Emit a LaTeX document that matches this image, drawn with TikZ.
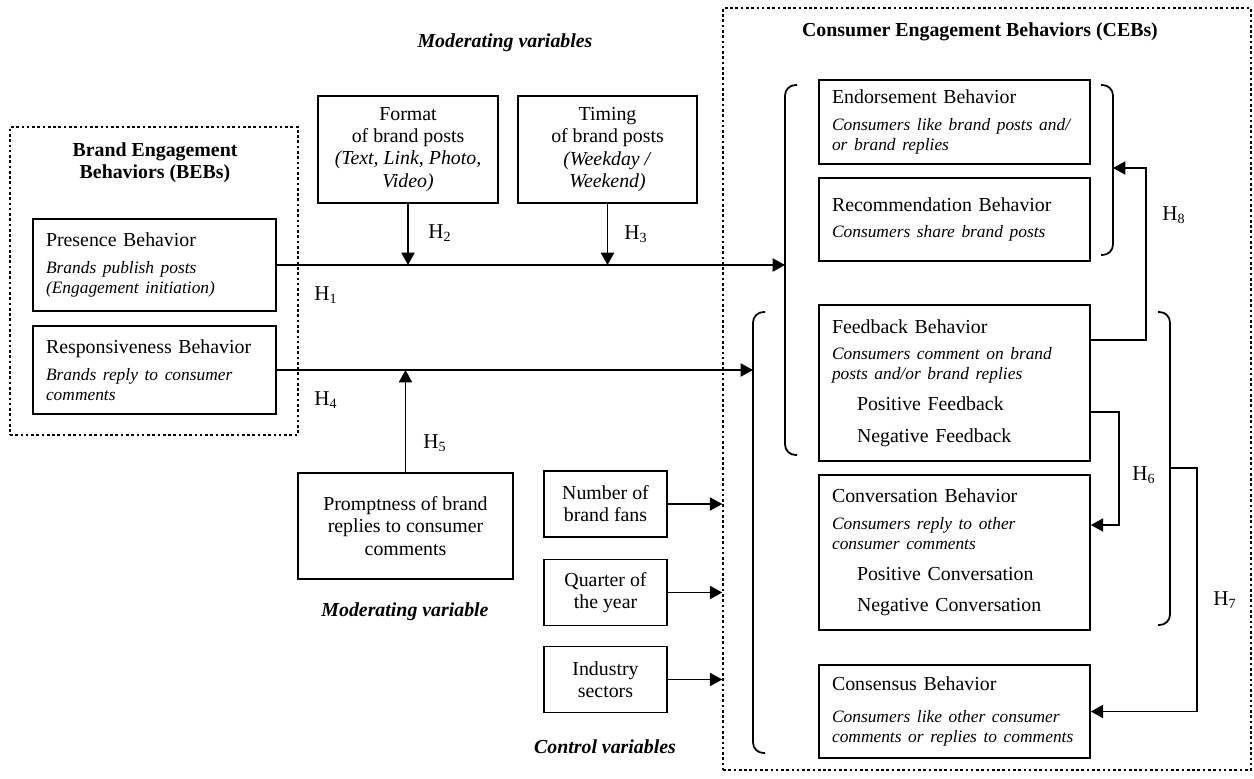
\documentclass[tikz,border=0pt]{standalone}
\usepackage{fontspec}
\setmainfont{Liberation Serif}
\usetikzlibrary{arrows.meta, positioning, calc}
\newcommand{\behdesc}[1]{\mbox{\fontsize{9.9}{11.3}\selectfont\itshape #1}}
\tikzset{
  every picture/.style={line width=0.8pt},
  varbox/.style={draw, line width=1pt, align=center, inner sep=2pt, font=\fontsize{11.3}{12.6}\selectfont},
  behbox/.style={draw, line width=1pt, align=left, text width=#1, inner xsep=0.26cm, inner ysep=2pt, font=\fontsize{11.3}{11.3}\selectfont},
  behbox/.default=4.9cm,
  dotframe/.style={draw, line width=0.9pt, dash pattern=on 1.5pt off 1.5pt},
  arrow/.style={-{Triangle[length=7pt, width=7.5pt]}, line width=0.8pt},
  bracket/.style={line width=1pt, rounded corners=6pt},
  hyp/.style={font=\fontsize{12}{12}\selectfont, inner sep=0pt},
  heading/.style={font=\fontsize{11.3}{12.6}\selectfont\bfseries, align=center},
  varnote/.style={font=\fontsize{11.3}{12.6}\selectfont\bfseries\itshape},
}

\begin{document}
\begin{tikzpicture}[x=0.02cm, y=-0.02cm]
  \useasboundingbox (0,0) rectangle (1254,778);
  % the two dotted groups
  \node[dotframe, minimum width=5.76cm, minimum height=6.16cm] (beb) at (154,281) {};
  \node[dotframe, minimum width=10.56cm, minimum height=15.24cm] (ceb) at (987,389) {};
  \node[heading] (bebtitle) at (155,163) {Brand Engagement\\Behaviors (BEBs)};
  \node[heading] (cebtitle) at (980,32) {Consumer Engagement Behaviors (CEBs)};

  % brand side
  \node[behbox=4.34cm, minimum height=1.84cm] (pres) at (154.5,265) {Presence Behavior\\[4pt]\behdesc{Brands publish posts}\\\behdesc{(Engagement initiation)}};
  \node[behbox=4.34cm, minimum height=1.76cm] (resp) at (154.5,370) {Responsiveness Behavior\\[4pt]\behdesc{Brands reply to consumer}\\\behdesc{comments}};

  % moderators
  \node[varnote] (modvars) at (505,43) {Moderating variables};
  \node[varbox, minimum width=3.6cm, minimum height=2.14cm] (fmt) at (408,149.5) {Format\\of brand posts\\\textit{(Text, Link, Photo,}\\\textit{Video)}};
  \node[varbox, minimum width=3.58cm, minimum height=2.14cm] (tim) at (607.5,149.5) {Timing\\of brand posts\\\textit{(Weekday /}\\\textit{Weekend)}};
  \node[varbox, minimum width=4.3cm, minimum height=2.12cm] (prm) at (405.5,526) {Promptness of brand\\replies to consumer\\comments};
  \node[varnote] (modvar) at (405,612) {Moderating variable};

  % consumer side
  \node[behbox, minimum height=1.68cm] (endo) at (954.5,122) {Endorsement Behavior\\[4pt]\behdesc{Consumers like brand posts and/}\\\behdesc{or brand replies}};
  \node[behbox, minimum height=1.66cm] (reco) at (954.5,219.5) {Recommendation Behavior\\[4pt]\behdesc{Consumers share brand posts}};
  \node[behbox, minimum height=3.12cm] (feed) at (954.5,383) {Feedback Behavior\\[4pt]\behdesc{Consumers comment on brand}\\\behdesc{posts and/or brand replies}\\[6.3pt]\hspace*{0.5cm}Positive Feedback\\[6.8pt]\hspace*{0.5cm}Negative Feedback};
  \node[behbox, minimum height=3.1cm] (conv) at (954.5,552.5) {Conversation Behavior\\[4pt]\behdesc{Consumers reply to other}\\\behdesc{consumer comments}\\[6.3pt]\hspace*{0.5cm}Positive Conversation\\[6.8pt]\hspace*{0.5cm}Negative Conversation};
  \node[behbox, minimum height=1.86cm] (cons) at (954.5,711.5) {Consensus Behavior\\[6.8pt]\behdesc{Consumers like other consumer}\\\behdesc{comments or replies to comments}};

  % brackets round the behavior groups
  \draw[bracket] (797,85) -- (785,85) -- (785,455) -- (797,455);
  \draw[bracket] (1101,85) -- (1113,85) -- (1113,255) -- (1101,255);
  \draw[bracket] (765,312) -- (753,312) -- (753,753) -- (765,753);
  \draw[bracket] (1158,312) -- (1170,312) -- (1170,625) -- (1158,625);
  \coordinate (brTL) at (785,266);
  \coordinate (brBL) at (753,370);
  \coordinate (brTR) at (1113,168);
  \coordinate (brBR) at (1170,468);

  % hypotheses
  \draw[arrow] (pres.east) -- (pres.east -| brTL);
  \draw[arrow] (resp.east) -- (resp.east -| brBL);
  \draw[arrow] (fmt.south) -- (fmt.south |- pres.east);
  \draw[arrow] (tim.south) -- (tim.south |- pres.east);
  \draw[arrow] (prm.north) -- (prm.north |- resp.east);
  \draw[arrow] ([yshift=0.86cm]feed.east) -- ++(55,0) |- (brTR);
  \draw[arrow] ([yshift=-0.58cm]feed.east) -- ++(28,0) |- ([yshift=0.55cm]conv.east);
  \draw[arrow] (brBR) -- ++(27,0) |- (cons.east);
  \node[hyp] (h1) at (326,295) {H\textsubscript{1}};
  \node[hyp] (h2) at (440,233) {H\textsubscript{2}};
  \node[hyp] (h3) at (636,234) {H\textsubscript{3}};
  \node[hyp] (h4) at (326,400) {H\textsubscript{4}};
  \node[hyp] (h5) at (435,443) {H\textsubscript{5}};
  \node[hyp] (h6) at (1144,475) {H\textsubscript{6}};
  \node[hyp] (h7) at (1225,600) {H\textsubscript{7}};
  \node[hyp] (h8) at (1174,215) {H\textsubscript{8}};

  % controls
  \foreach \n/\y/\txt in {fans/504/Number of\\brand fans, qtr/592.5/Quarter of\\the year, ind/679.5/Industry\\sectors} {
    \node[varbox, minimum width=2.46cm, minimum height=1.32cm] (\n) at (605.5,\y) {\txt};
    \draw[arrow] (\n.east) -- (\n.east -| ceb.west);
  }
  \node[varnote] (ctrl) at (605,747) {Control variables};
\end{tikzpicture}
\end{document}
